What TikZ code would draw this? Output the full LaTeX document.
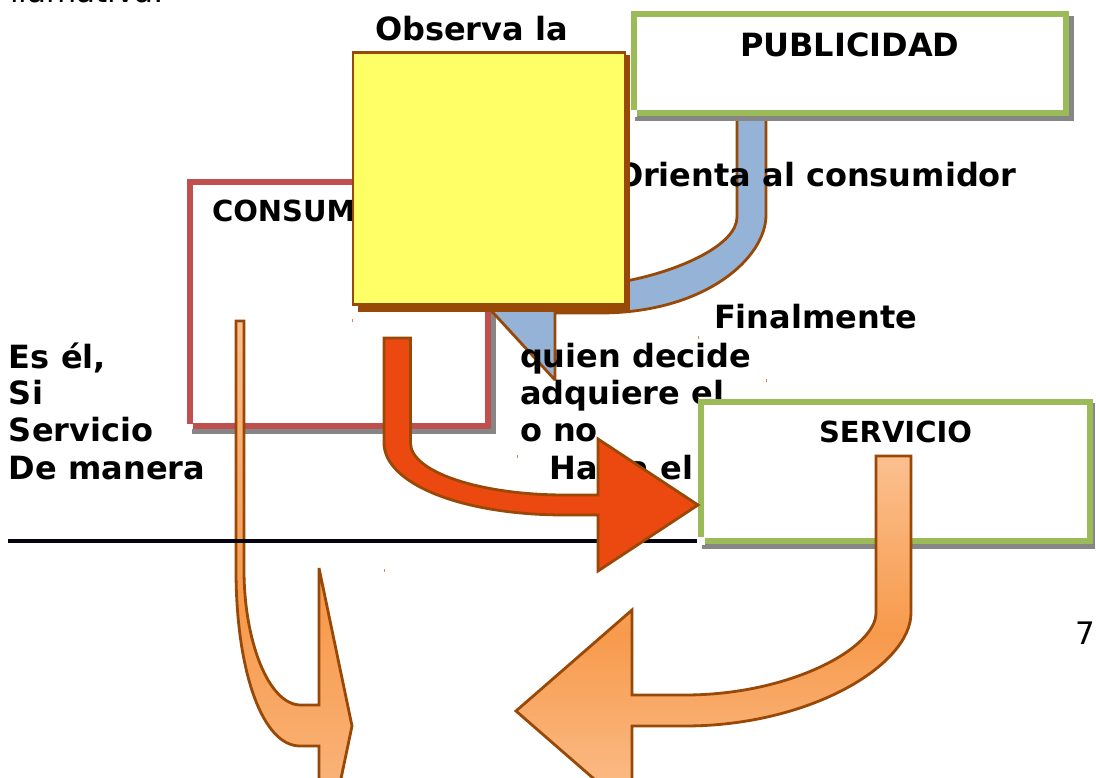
\documentclass[tikz,border=0pt]{standalone}
\usepackage{fontspec}
\setmainfont{DejaVu Sans}
\definecolor{brownline}{HTML}{984807}
\definecolor{boxgreen}{HTML}{9BBB59}
\definecolor{boxred}{HTML}{C0504D}
\definecolor{shadowgrey}{HTML}{868686}
\definecolor{noteyellow}{HTML}{FFFF66}
\definecolor{arrowblue}{HTML}{95B3D7}
\definecolor{arrowred}{HTML}{EC4911}
\definecolor{orangelight}{HTML}{FBC08F}
\definecolor{orangemid}{HTML}{F79A4C}
\definecolor{speck}{HTML}{C98A60}
\definecolor{rulecolor}{HTML}{05050F}
\tikzset{
  big/.style={anchor=base west,inner sep=0pt,outer sep=0pt,font=\fontsize{32}{38}\selectfont\bfseries},
  mid/.style={anchor=base west,inner sep=0pt,outer sep=0pt,font=\fontsize{29}{35}\selectfont\bfseries},
  plain/.style={anchor=base west,inner sep=0pt,outer sep=0pt,font=\fontsize{31}{37}\selectfont},
  frame/.style={draw=#1,fill=white,line width=6pt,anchor=north west,inner sep=0pt,outer sep=0pt,rectangle},
  arrowshape/.style={draw=brownline,line width=2.8pt,line join=miter,miter limit=2.5},
  orangeshade/.style={arrowshape,top color=orangelight,bottom color=orangelight,middle color=orangemid},
  speckle/.style={fill=speck,draw=none}
}
\begin{document}
\begin{tikzpicture}[x=1pt,y=-1pt]
\useasboundingbox (0,0) rectangle (1096,778);
\clip (0,0) rectangle (1096,778);
\fill[white] (0,0) rectangle (1096,778);

% page fragments
\node[plain] (cut) at (10,3) {llamativa:};
\node[plain] (pagenum) at (1075,644) {77};

% consumer box
\fill[shadowgrey] (192,186) rectangle (496,434);
\node[frame=boxred,minimum width=298pt,minimum height=243pt] (consumer) at (190,182.5) {};
\fill[white] (186,423.5) rectangle (192.6,430);
\fill[shadowgrey] (192,429) rectangle (193,434);
\node[mid] (consumerlabel) at (212,222) {CONSUMIDOR};

% blue arrow
\path[arrowshape,fill=arrowblue]
  (737,100) -- (737,217) .. controls (737,245) and (680,270) .. (631,280) -- (600,284)
  -- (555,284) -- (555,200) -- (440,255) -- (555,380) -- (555,313) -- (600,313)
  .. controls (705,313) and (766,258) .. (766,215) -- (766,100) -- cycle;

% publicity box
\fill[shadowgrey] (635,16) rectangle (1074,121);
\node[frame=boxgreen,minimum width=432pt,minimum height=99pt] (pub) at (634,14) {};
\fill[white] (630.5,110.2) rectangle (637.2,116.6);
\fill[shadowgrey] (635,116.6) rectangle (637.2,121);
\node[big] (publabel) at (740,57) {PUBLICIDAD};
\node[big] (observa) at (375,41) {Observa la};
\node[big] (orienta) at (616,187) {Orienta al consumidor};

% yellow box
\fill[brownline] (358,55) rectangle (630,312);
\node[draw=brownline,fill=noteyellow,line width=2.2pt,anchor=north west,inner sep=0pt,outer sep=0pt,
  minimum width=272pt,minimum height=252pt] (note) at (353,52.5) {};

% body texts
\node[big] (final) at (714,329) {Finalmente};
\node[big] (quien) at (520,367.5) {quien decide};
\node[big] (adquiere) at (520,404) {adquiere el};
\node[big] (ono) at (520,441) {o no};
\node[big] (hacia) at (549.5,479) {Hacia el};
\node[big] (es) at (9,368) {Es él,};
\node[big] (si) at (9,404) {Si};
\node[big] (servicio) at (9,441) {Servicio};
\node[big] (manera) at (9,479) {De manera};

% service box
\fill[shadowgrey] (702,403) rectangle (1095,549);
\node[frame=boxgreen,minimum width=389pt,minimum height=139pt] (svc) at (701,401.5) {};
\fill[white] (697,537.2) rectangle (705,544.6);
\fill[shadowgrey] (702,544.6) rectangle (705,549);
\node[mid] (svclabel) at (819,442) {SERVICIO};

% thin orange arrow
\path[orangeshade]
  (236,321) -- (244,321) -- (244,570) .. controls (244,640) and (268,704) .. (300,705)
  -- (319,705) -- (319,568) -- (352,726) -- (319,884) -- (319,746) -- (300,746)
  .. controls (262,746) and (236,670) .. (236,570) -- cycle;

% rule
\coordinate (rulestart) at (8,541);
\coordinate (ruleend) at (697,541);
\draw[rulecolor,line width=4pt] (rulestart) -- (ruleend);

% red arrow
\path[arrowshape,fill=arrowred]
  (384,338) -- (410.5,338) -- (410.5,443) .. controls (410.5,472) and (480,495) .. (565,495)
  -- (598,495) -- (598,439) -- (698,505) -- (598,571) -- (598,515) -- (565,515)
  .. controls (460,515) and (384,483) .. (384,443) -- cycle;

% large orange arrow
\path[orangeshade]
  (876,456) -- (911,456) -- (911,613) .. controls (911,665) and (810,726) .. (685,726)
  -- (632,726) -- (632,812) -- (516,711) -- (632,610) -- (632,695) -- (685,695)
  .. controls (790,695) and (876,648) .. (876,613) -- cycle;

% stray specks
\fill[speckle] (352,319.5) rectangle (353.2,322);
\fill[speckle] (383.5,569) rectangle (384.7,571.5);
\fill[speckle] (697.5,336.5) rectangle (698.7,339);
\fill[speckle] (766,379) rectangle (767.2,381.5);
\fill[speckle] (516.5,455) rectangle (517.7,457.5);
\end{tikzpicture}
\end{document}
